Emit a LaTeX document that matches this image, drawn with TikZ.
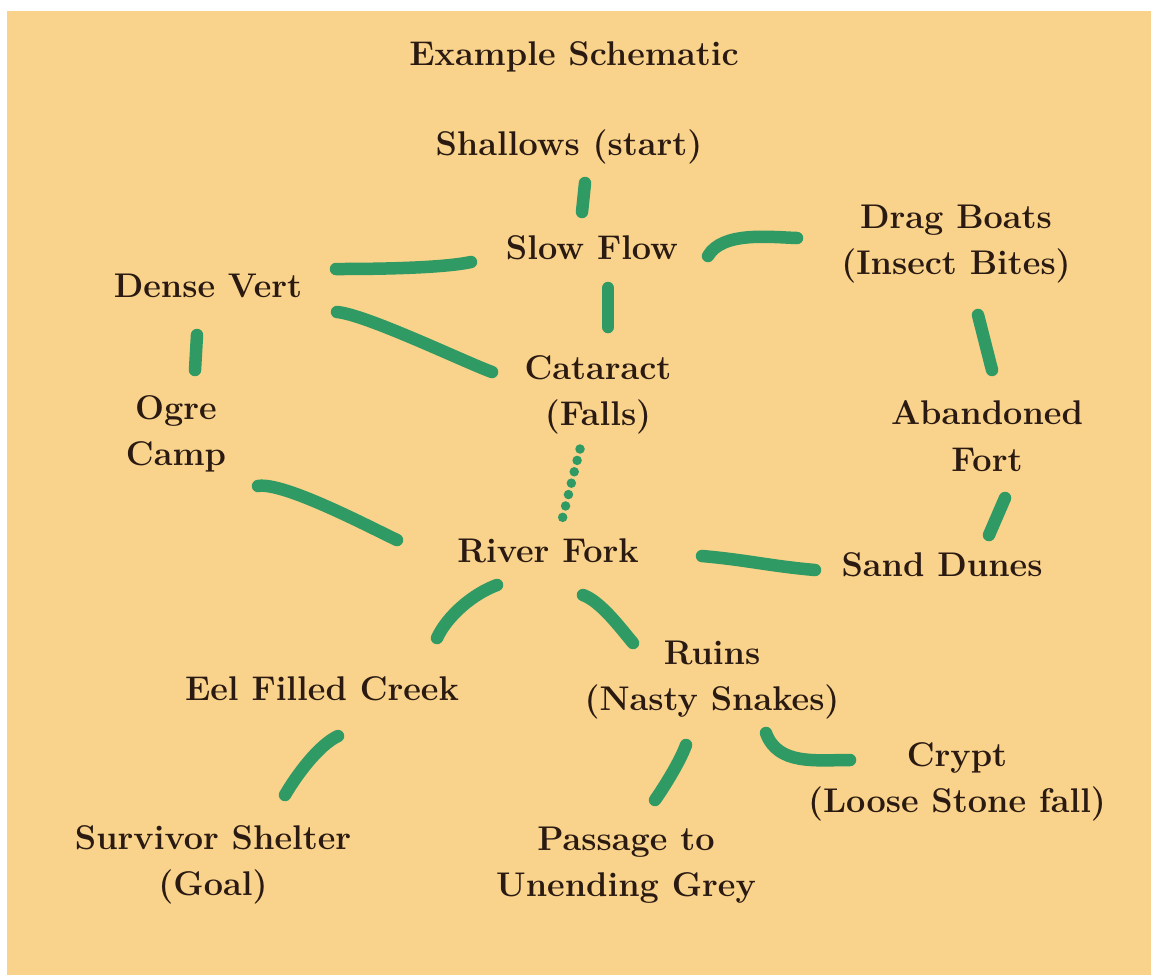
\documentclass[tikz,border=0pt]{standalone}
\usetikzlibrary{calc}
\definecolor{parch}{HTML}{F9D38C}
\definecolor{brush}{HTML}{2F9A63}
\definecolor{ink}{HTML}{2A1A12}
\begin{document}
\begin{tikzpicture}[x=0.02cm,y=0.02cm,
  every node/.style={text=ink,font=\fontsize{19.5}{26.5}\selectfont\bfseries,align=center},
  link/.style={draw=brush,line width=0.25cm,line cap=round,line join=round},
  dots/.style={draw=brush,line width=0.19cm,line cap=round,dash pattern=on 0pt off 0.235cm}]

\useasboundingbox (0,0) rectangle (1151,-975);
\fill[white] (0,0) rectangle (1151,-975);
\fill[parch] (7,-11) rectangle (1151,-975);

% places
\node (title)    at (574,-57)  {Example Schematic};
\node (shallows) at (569,-147) {Shallows (start)};
\node (slow)     at (592,-248) {Slow Flow};
\node (drag)     at (956,-244) {Drag Boats\\(Insect Bites)};
\node (dense)    at (208,-286) {Dense Vert};
\node (cataract) at (598,-395) {Cataract\\(Falls)};
\node (ogre)     at (176,-434) {Ogre\\Camp};
\node (fort)     at (987,-436) {Abandoned\\Fort};
\node (fork)     at (548,-551) {River Fork};
\node (dunes)    at (942,-565) {Sand Dunes};
\node (eel)      at (322,-689) {Eel Filled Creek};
\node (ruins)    at (712,-680) {Ruins\\(Nasty Snakes)};
\node (crypt)    at (957,-782) {Crypt\\(Loose Stone fall)};
\node (shelter)  at (213,-865) {Survivor Shelter\\(Goal)};
\node (passage)  at (626,-865) {Passage to\\Unending Grey};

% brush strokes
\draw[link] ($(shallows)+(16,-36)$) -- ($(slow)+(-10,36)$);
\draw[link] ($(slow)+(116,-8)$) to[out=60,in=178,looseness=0.8] ($(drag)+(-159,6)$);
\draw[link] ($(dense)+(128,17)$) to[out=0,in=192,looseness=0.6] ($(slow)+(-121,-14)$);
\draw[link] ($(slow)+(16,-40)$) -- ($(cataract)+(10,68)$);
\draw[link] ($(dense)+(129,-26)$) to[out=-5,in=160,looseness=0.45] ($(cataract)+(-106,23)$);
\draw[link] ($(dense)+(-11,-49)$) -- ($(ogre)+(19,64)$);
\draw[link] ($(drag)+(22,-71)$) -- ($(fort)+(5,66)$);
\draw[dots] ($(cataract)+(-18,-54)$) -- ($(fork)+(14,31)$);
\draw[link] ($(ogre)+(82,-52)$) to[out=10,in=155,looseness=0.45] ($(fork)+(-151,11)$);
\draw[link] ($(fort)+(18,-62)$) -- ($(dunes)+(47,30)$);
\draw[link] ($(fork)+(154,-5)$) to[out=-5,in=175] ($(dunes)+(-127,-5)$);
\draw[link] ($(fork)+(-51,-34)$) to[out=200,in=65,looseness=0.8] ($(eel)+(115,51)$);
\draw[link] ($(fork)+(35,-44)$) to[out=-20,in=130,looseness=0.7] ($(ruins)+(-79,37)$);
\draw[link] ($(eel)+(16,-47)$) to[out=205,in=60,looseness=0.7] ($(shelter)+(72,70)$);
\draw[link] ($(ruins)+(-26,-65)$) to[out=-110,in=55,looseness=0.7] ($(passage)+(29,65)$);
\draw[link] ($(ruins)+(54,-53)$) to[out=-70,in=180] ($(crypt)+(-107,22)$);

\end{tikzpicture}
\end{document}
